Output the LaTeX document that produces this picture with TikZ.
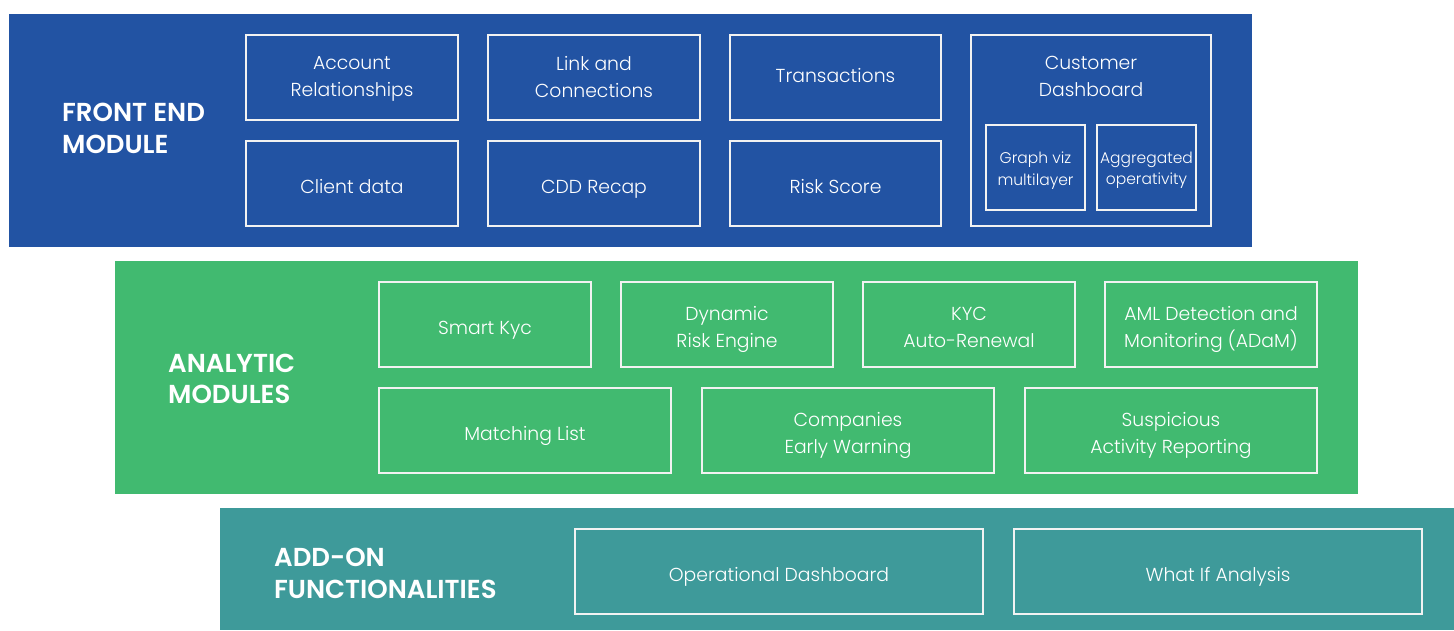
\documentclass[tikz,border=0pt]{standalone}
\usepackage{fontspec}
\setmainfont{Poppins}[UprightFont=* Light, BoldFont=* SemiBold]
\definecolor{feblue}{HTML}{2253A3}
\definecolor{angreen}{HTML}{41BA70}
\definecolor{adteal}{HTML}{3E9A9A}
\tikzset{
  wbox/.style={draw=white!90!gray, line width=1.3pt, inner sep=0pt},
  wtxt/.style={text=white, align=center, inner sep=0pt, text depth=0pt,
    font=\fontsize{18.8}{27}\selectfont},
  stxt/.style={wtxt, font=\fontsize{15.5}{21.5}\selectfont},
  ttl/.style={text=white, align=left, anchor=west, inner sep=0pt, text depth=0pt,
    font=\bfseries\fontsize{26}{31.6}\selectfont},
}
% name, x1, y1, x2, y2, text style, text y-offset, text
\newcommand{\bx}[8]{%
  \node[wbox, minimum width={(#4-#2)*1pt}, minimum height={(#5-#3)*1pt}] (#1) at ({(#2+#4)/2},{(#3+#5)/2}) {};
  \node[#6] (#1-t) at ({(#2+#4)/2},{(#3+#5)/2+#7}) {#8};}
\begin{document}
\begin{tikzpicture}[x=1pt,y=-1pt]
\useasboundingbox (0,0) rectangle (1454,630);
% bands
\fill[feblue] (9,14) rectangle (1252,247);
\fill[angreen] (115,261) rectangle (1358,494);
\fill[adteal] (220,508) rectangle (1454,630);
% titles
\node[ttl] (fet) at (62,128.3) {FRONT END\\MODULE};
\node[ttl] (ant) at (168,379) {ANALYTIC\\MODULES};
\node[ttl] (adt) at (274,573.3) {ADD-ON\\FUNCTIONALITIES};
% front end
\bx{ar}{246}{35}{458}{120}{wtxt}{-1}{Account\\Relationships}
\bx{lc}{488}{35}{700}{120}{wtxt}{-1}{Link and\\Connections}
\bx{tr}{730}{35}{941}{120}{wtxt}{-2}{Transactions}
\bx{cdat}{246}{141}{458}{226}{wtxt}{3}{Client data}
\bx{cdd}{488}{141}{700}{226}{wtxt}{3}{CDD Recap}
\bx{rs}{730}{141}{941}{226}{wtxt}{3}{Risk Score}
\node[wbox, minimum width=240pt, minimum height=191pt] (cd) at (1091,130.5) {};
\node[wtxt] (cdt) at (1091,76) {Customer\\Dashboard};
\bx{gv}{986}{125}{1085}{210}{stxt}{1}{Graph viz\\multilayer}
\bx{ao}{1097}{125}{1196}{210}{stxt}{1}{Aggregated\\operativity}
% analytic
\bx{sk}{379}{282}{591}{367}{wtxt}{3}{Smart Kyc}
\bx{dre}{621}{282}{833}{367}{wtxt}{2}{Dynamic\\Risk Engine}
\bx{kyc}{863}{282}{1075}{367}{wtxt}{2.5}{KYC\\Auto-Renewal}
\bx{aml}{1105}{282}{1317}{367}{wtxt}{2}{AML Detection and\\Monitoring (ADaM)}
\bx{ml}{379}{388}{671}{473}{wtxt}{3}{Matching List}
\bx{cew}{702}{388}{994}{473}{wtxt}{2.5}{Companies\\Early Warning}
\bx{sar}{1025}{388}{1317}{473}{wtxt}{2.5}{Suspicious\\Activity Reporting}
% add-on
\bx{od}{575}{529}{983}{614}{wtxt}{3}{Operational Dashboard}
\bx{wia}{1014}{529}{1422}{614}{wtxt}{3}{What If Analysis}
\end{tikzpicture}
\end{document}
